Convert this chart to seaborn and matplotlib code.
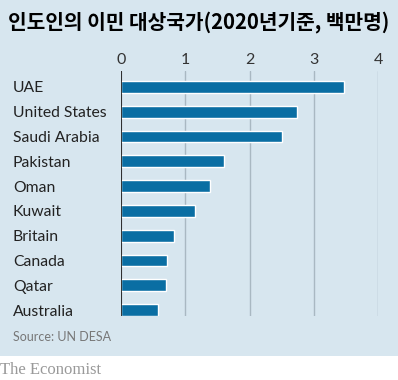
import pandas as pd
import matplotlib.pyplot as plt
import seaborn as sns
from matplotlib.patches import Rectangle

# data (millions, 2020)
countries = ['UAE', 'United States', 'Saudi Arabia', 'Pakistan', 'Oman',
             'Kuwait', 'Britain', 'Canada', 'Qatar', 'Australia']
migrants = [3.47, 2.73, 2.50, 1.60, 1.38, 1.15, 0.83, 0.72, 0.70, 0.58]
x_ticks = [0, 1, 2, 3, 4]

df = pd.DataFrame({'country': countries, 'migrants': migrants})

bg = '#d7e6ef'
bar_color = '#0a6ea3'

sns.set_theme(style='white')
plt.rcParams['font.family'] = ['Lato', 'Noto Sans CJK KR', 'DejaVu Sans']

fig = plt.figure(figsize=(3.98, 3.80), dpi=100, facecolor='white')
# blue panel behind the chart
fig.patches.append(Rectangle((0, 1 - 356 / 380), 1, 356 / 380, transform=fig.transFigure,
                             facecolor=bg, edgecolor='none', zorder=-10))

ax = fig.add_axes([121 / 398, 1 - 316 / 380, (378.3 - 121) / 398, (316 - 71) / 380])
ax.set_facecolor('none')

sns.barplot(data=df, x='migrants', y='country', color=bar_color, saturation=1,
            width=0.48, ax=ax, zorder=3)

ax.set_xlim(0, 4)
ax.set_ylim(9.24, -0.64)
ax.set_xticks(x_ticks)
ax.xaxis.tick_top()
ax.tick_params(axis='x', length=0, pad=3, labelsize=11.5, labelcolor='#333333')
ax.tick_params(axis='y', length=0, pad=77.8, labelsize=11.3, labelcolor='#222222')
for lab in ax.get_yticklabels():
    lab.set_horizontalalignment('left')
ax.grid(axis='x', color='#a9b8c2', linewidth=1, zorder=0)
ax.axvline(0, color='#222222', linewidth=1.3, zorder=4)
ax.set_xlabel('')
ax.set_ylabel('')
for s in ax.spines.values():
    s.set_visible(False)

fig.text(8 / 398, 1 - 22 / 380, '인도인의 이민 대상국가(2020년기준, 백만명)',
         fontsize=14.6, fontweight='bold', va='center', ha='left', color='black',
         family=['Noto Sans CJK KR', 'DejaVu Sans'])
fig.text(13 / 398, 1 - 337 / 380, 'Source: UN DESA', fontsize=9.0, color='#777777',
         va='center', ha='left')
fig.text(0, 1 - 370 / 380, 'The Economist', fontsize=12, color='#999999',
         va='center', ha='left', family=['Liberation Serif', 'DejaVu Serif'])

fig.savefig('out.png', dpi=100, facecolor='white')
